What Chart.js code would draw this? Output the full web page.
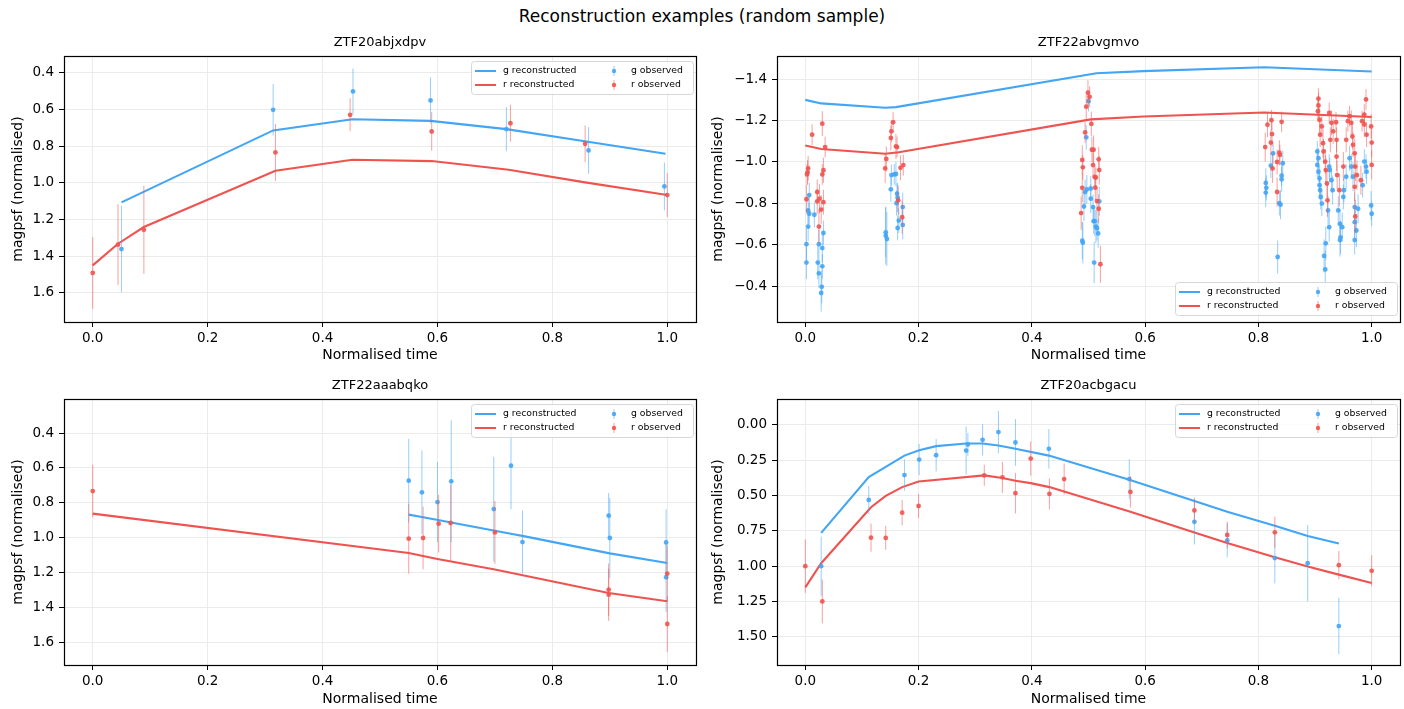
<!DOCTYPE html>
<html>
<head>
<meta charset="utf-8">
<script src="https://cdn.jsdelivr.net/npm/chart.js@4.4.1/dist/chart.umd.min.js"></script>
<style>
  body { margin: 0; background: #fff; width: 1404px; height: 709px; overflow: hidden; position: relative; font-family: "DejaVu Sans", sans-serif; }
  #title { position: absolute; top: 6px; left: 0; width: 1404px; text-align: center; font-size: 17px; color: #000; }
  canvas { position: absolute; }
</style>
</head>
<body>
<div id="title">Reconstruction examples (random sample)</div>
<canvas id="c1" width="700" height="335" style="left:0px;top:35px"></canvas>
<canvas id="c2" width="704" height="335" style="left:700px;top:35px"></canvas>
<canvas id="c3" width="700" height="337" style="left:0px;top:377px"></canvas>
<canvas id="c4" width="704" height="337" style="left:700px;top:377px"></canvas>
<script>
// ---------- data ----------
const xTicks = [0, 0.2, 0.4, 0.6, 0.8, 1.0];

// ZTF20abjxdpv
const p1Name = 'ZTF20abjxdpv';
const p1YTicks = [0.4, 0.6, 0.8, 1.0, 1.2, 1.4, 1.6];
const p1gRecX = [0.05, 0.314, 0.452, 0.588, 0.72, 0.859, 0.997];
const p1gRecY = [1.107, 0.715, 0.654, 0.663, 0.708, 0.775, 0.842];
const p1rRecX = [0.0, 0.044, 0.089, 0.318, 0.452, 0.59, 0.724, 0.857, 1.0];
const p1rRecY = [1.45, 1.332, 1.241, 0.935, 0.875, 0.882, 0.929, 0.998, 1.067];
const p1gObsX = [0.05, 0.314, 0.453, 0.588, 0.72, 0.863, 0.995];
const p1gObsY = [1.361, 0.603, 0.503, 0.552, 0.708, 0.824, 1.02];
const p1gObsE = [0.235, 0.14, 0.125, 0.125, 0.12, 0.127, 0.13];
const p1rObsX = [0.0, 0.044, 0.089, 0.318, 0.448, 0.59, 0.727, 0.857, 1.0];
const p1rObsY = [1.491, 1.337, 1.256, 0.835, 0.63, 0.721, 0.676, 0.788, 1.067];
const p1rObsE = [0.195, 0.22, 0.24, 0.155, 0.09, 0.105, 0.1, 0.1, 0.12];

// ZTF22abvgmvo
const p2Name = 'ZTF22abvgmvo';
const p2YTicks = [-1.4, -1.2, -1.0, -0.8, -0.6, -0.4];
const p2gRecX = [0.0, 0.028, 0.141, 0.16, 0.514, 0.597, 0.81, 1.0];
const p2gRecY = [-1.3, -1.283, -1.262, -1.265, -1.429, -1.439, -1.458, -1.437];
const p2rRecX = [0.0, 0.028, 0.141, 0.165, 0.504, 0.597, 0.81, 1.0];
const p2rRecY = [-1.08, -1.063, -1.04, -1.047, -1.206, -1.22, -1.239, -1.217];
const p2gObsX = [0.007, 0.005, 0.007, 0.016, 0.005, 0.002, 0.002, 0.024, 0.032, 0.03, 0.022, 0.03, 0.024, 0.029, 0.028,
  0.152, 0.157, 0.16, 0.151, 0.162, 0.163, 0.161, 0.172, 0.165, 0.172, 0.163, 0.142, 0.142, 0.144,
  0.5, 0.496, 0.494, 0.497, 0.504, 0.504, 0.492, 0.508, 0.519, 0.509, 0.511, 0.513, 0.515, 0.517, 0.489, 0.49, 0.51,
  0.826, 0.822, 0.843, 0.841, 0.841, 0.813, 0.814, 0.813, 0.837, 0.839, 0.834,
  0.904, 0.906, 0.904, 0.906, 0.908, 0.908, 0.909, 0.91, 0.912, 0.923, 0.925, 0.916, 0.918, 0.926, 0.929, 0.931, 0.925,
  0.941, 0.944, 0.945, 0.948, 0.95, 0.951, 0.955, 0.961, 0.964, 0.967, 0.97, 0.97, 0.973, 0.976, 0.987, 0.99, 0.991,
  0.984, 0.999, 1.0, 0.944, 0.97, 0.919];
const p2gObsY = [-0.84, -0.766, -0.75, -0.745, -0.688, -0.603, -0.514, -0.603, -0.657, -0.584, -0.514, -0.496, -0.462, -0.397, -0.367,
  -0.937, -0.94, -0.942, -0.868, -0.847, -0.828, -0.801, -0.782, -0.717, -0.696, -0.681, -0.66, -0.644, -0.628,
  -1.294, -1.119, -0.855, -0.867, -0.872, -0.823, -0.785, -0.782, -0.81, -0.714, -0.714, -0.688, -0.68, -0.655, -0.62, -0.61, -0.514,
  -1.042, -0.982, -0.994, -0.934, -0.916, -0.899, -0.875, -0.852, -0.801, -0.794, -0.541,
  -1.051, -1.018, -0.986, -0.953, -0.921, -0.888, -0.864, -0.831, -0.799, -0.766, -0.685, -0.546, -0.481, -0.961, -0.912, -0.864, -0.978,
  -0.766, -0.701, -0.636, -0.685, -0.831, -0.864, -0.929, -1.018, -0.978, -0.929, -0.782, -0.709, -0.669, -0.774, -1.002, -0.978, -0.953,
  -0.888, -0.79, -0.75, -0.623, -0.623, -0.607];
const p2gObsE = [0.06, 0.07, 0.05, 0.06, 0.07, 0.08, 0.08, 0.07, 0.06, 0.07, 0.08, 0.06, 0.07, 0.08, 0.09,
  0.05, 0.05, 0.06, 0.06, 0.05, 0.07, 0.06, 0.07, 0.06, 0.07, 0.06, 0.12, 0.14, 0.13,
  0.05, 0.06, 0.06, 0.07, 0.06, 0.07, 0.07, 0.06, 0.07, 0.06, 0.07, 0.08, 0.06, 0.07, 0.09, 0.1, 0.1,
  0.05, 0.06, 0.06, 0.05, 0.06, 0.07, 0.06, 0.07, 0.06, 0.07, 0.08,
  0.05, 0.05, 0.06, 0.05, 0.06, 0.06, 0.05, 0.06, 0.06, 0.07, 0.07, 0.08, 0.09, 0.06, 0.06, 0.07, 0.06,
  0.07, 0.07, 0.08, 0.07, 0.06, 0.06, 0.06, 0.06, 0.06, 0.07, 0.07, 0.08, 0.08, 0.07, 0.06, 0.06, 0.06,
  0.06, 0.07, 0.06, 0.08, 0.07, 0.08];
const p2rObsX = [0.012, 0.03, 0.035, 0.005, 0.003, 0.004, 0.002, 0.032, 0.03, 0.021, 0.025, 0.021, 0.028, 0.032, 0.024,
  0.152, 0.151, 0.155, 0.16, 0.162, 0.143, 0.141, 0.168, 0.173, 0.164, 0.171,
  0.499, 0.502, 0.496, 0.505, 0.494, 0.506, 0.509, 0.518, 0.489, 0.49, 0.508, 0.519, 0.511, 0.513, 0.489, 0.512, 0.515, 0.487, 0.518, 0.521,
  0.823, 0.816, 0.841, 0.824, 0.822, 0.812, 0.837, 0.838, 0.833, 0.825, 0.833,
  0.906, 0.906, 0.905, 0.908, 0.912, 0.909, 0.914, 0.915, 0.918, 0.919, 0.921, 0.922, 0.925, 0.929, 0.932, 0.927,
  0.937, 0.938, 0.938, 0.939, 0.943, 0.95, 0.955, 0.958, 0.961, 0.964, 0.966, 0.967, 0.97, 0.971, 0.974, 0.97,
  0.971, 0.983, 0.987, 0.99, 0.987, 0.991, 0.999, 1.0, 1.0, 0.981];
const p2rObsY = [-1.132, -1.185, -1.072, -0.969, -0.94, -0.95, -0.82, -0.96, -0.94, -0.855, -0.823, -0.81, -0.77, -0.806, -0.688,
  -1.148, -1.116, -1.192, -1.075, -1.072, -1.015, -0.969, -0.972, -0.985, -0.815, -0.733,
  -1.335, -1.315, -1.267, -1.184, -1.143, -1.059, -1.059, -1.013, -1.01, -0.974, -0.985, -0.961, -0.928, -0.925, -0.875, -0.876, -0.811, -0.753, -0.774, -0.506,
  -1.202, -1.18, -1.194, -1.135, -1.094, -1.072, -1.045, -1.034, -1.0, -0.969, -0.855,
  -1.306, -1.273, -1.245, -1.204, -1.172, -1.132, -1.091, -1.051, -1.002, -0.961, -0.896, -0.815, -1.237, -1.189, -1.148, -1.107,
  -1.192, -1.107, -1.026, -0.937, -0.864, -0.978, -1.107, -1.197, -1.221, -1.189, -1.123, -1.083, -1.042, -0.978, -0.937, -0.88,
  -0.737, -1.197, -1.229, -1.302, -1.181, -1.132, -1.172, -1.094, -0.986, -0.912];
const p2rObsE = [0.05, 0.06, 0.05, 0.06, 0.05, 0.06, 0.07, 0.06, 0.05, 0.06, 0.07, 0.06, 0.07, 0.06, 0.08,
  0.05, 0.06, 0.05, 0.06, 0.05, 0.06, 0.07, 0.06, 0.05, 0.07, 0.08,
  0.06, 0.05, 0.06, 0.06, 0.05, 0.06, 0.07, 0.06, 0.07, 0.06, 0.06, 0.07, 0.06, 0.05, 0.07, 0.06, 0.07, 0.08, 0.07, 0.09,
  0.05, 0.06, 0.05, 0.06, 0.06, 0.07, 0.06, 0.05, 0.06, 0.07, 0.07,
  0.05, 0.06, 0.05, 0.06, 0.05, 0.06, 0.07, 0.06, 0.06, 0.07, 0.07, 0.08, 0.05, 0.06, 0.06, 0.06,
  0.05, 0.06, 0.07, 0.07, 0.08, 0.07, 0.06, 0.05, 0.05, 0.06, 0.06, 0.06, 0.07, 0.07, 0.07, 0.07,
  0.08, 0.05, 0.05, 0.05, 0.06, 0.06, 0.06, 0.07, 0.07, 0.07];

// ZTF22aaabqko
const p3Name = 'ZTF22aaabqko';
const p3YTicks = [0.4, 0.6, 0.8, 1.0, 1.2, 1.4, 1.6];
const p3gRecX = [0.55, 0.575, 0.601, 0.626, 0.70, 0.73, 0.75, 0.9, 1.0];
const p3gRecY = [0.868, 0.883, 0.899, 0.915, 0.96, 0.979, 0.991, 1.09, 1.145];
const p3rRecX = [0.0, 0.55, 0.6, 0.70, 0.898, 1.0];
const p3rRecY = [0.862, 1.088, 1.122, 1.183, 1.317, 1.365];
const p3gObsX = [0.55, 0.573, 0.6, 0.624, 0.698, 0.728, 0.748, 0.898, 0.9, 0.998, 0.998];
const p3gObsY = [0.673, 0.74, 0.796, 0.677, 0.836, 0.587, 1.025, 0.874, 1.002, 1.027, 1.227];
const p3gObsE = [0.24, 0.24, 0.23, 0.35, 0.3, 0.25, 0.18, 0.13, 0.23, 0.19, 0.2];
const p3rObsX = [0.0, 0.55, 0.575, 0.602, 0.623, 0.70, 0.898, 0.898, 1.0, 1.0];
const p3rObsY = [0.733, 1.006, 1.002, 0.92, 0.916, 0.97, 1.298, 1.327, 1.206, 1.495];
const p3rObsE = [0.15, 0.2, 0.18, 0.165, 0.22, 0.18, 0.15, 0.15, 0.16, 0.16];

// ZTF20acbgacu
const p4Name = 'ZTF20acbgacu';
const p4YTicks = [0.0, 0.25, 0.5, 0.75, 1.0, 1.25, 1.5];
const p4gRecX = [0.028, 0.112, 0.175, 0.201, 0.231, 0.284, 0.313, 0.341, 0.371, 0.43, 0.572, 0.687, 0.745, 0.829, 0.887, 0.942];
const p4gRecY = [0.764, 0.369, 0.217, 0.179, 0.15, 0.131, 0.131, 0.145, 0.169, 0.217, 0.388, 0.538, 0.614, 0.714, 0.786, 0.84];
const p4rRecX = [0.0, 0.028, 0.116, 0.142, 0.171, 0.2, 0.316, 0.348, 0.371, 0.398, 0.431, 0.457, 0.574, 0.687, 0.745, 0.829, 0.887, 0.942, 1.0];
const p4rRecY = [1.15, 0.979, 0.583, 0.502, 0.44, 0.4, 0.357, 0.376, 0.395, 0.412, 0.44, 0.471, 0.614, 0.762, 0.836, 0.936, 1.002, 1.06, 1.119];
const p4gObsX = [0.028, 0.112, 0.175, 0.201, 0.231, 0.284, 0.287, 0.313, 0.341, 0.371, 0.43, 0.572, 0.687, 0.745, 0.829, 0.887, 0.942];
const p4gObsY = [1.0, 0.531, 0.355, 0.245, 0.214, 0.181, 0.138, 0.105, 0.05, 0.124, 0.169, 0.383, 0.686, 0.817, 0.943, 0.979, 1.424];
const p4gObsE = [0.21, 0.1, 0.11, 0.11, 0.115, 0.17, 0.08, 0.11, 0.15, 0.165, 0.14, 0.14, 0.16, 0.12, 0.18, 0.27, 0.2];
const p4rObsX = [0.0, 0.03, 0.116, 0.142, 0.171, 0.2, 0.316, 0.348, 0.371, 0.398, 0.431, 0.457, 0.574, 0.687, 0.745, 0.829, 0.942, 1.0];
const p4rObsY = [1.0, 1.25, 0.798, 0.8, 0.621, 0.574, 0.357, 0.371, 0.483, 0.238, 0.488, 0.383, 0.474, 0.605, 0.779, 0.76, 0.993, 1.033];
const p4rObsE = [0.19, 0.155, 0.1, 0.085, 0.09, 0.085, 0.075, 0.11, 0.143, 0.12, 0.11, 0.11, 0.11, 0.09, 0.095, 0.11, 0.1, 0.11];

// ---------- styling ----------
const BLUE = '#42a5f5';
const RED = '#ef5350';
const FONT = 'DejaVu Sans';

const pts = (xs, ys) => xs.map((x, i) => ({ x: x, y: ys[i] }));

// vertical error bars, drawn under each observed dataset
const errorBars = {
  id: 'errorBars',
  beforeDatasetDraw(chart, args) {
    const ds = chart.data.datasets[args.index];
    if (!ds.err) return;
    const { ctx, chartArea: a, scales: { x, y } } = chart;
    ctx.save();
    ctx.beginPath();
    ctx.rect(a.left, a.top, a.right - a.left, a.bottom - a.top);
    ctx.clip();
    ctx.strokeStyle = ds.errColor;
    ctx.lineWidth = 1;
    ds.data.forEach((p, i) => {
      const px = x.getPixelForValue(p.x);
      ctx.beginPath();
      ctx.moveTo(px, y.getPixelForValue(p.y - ds.err[i]));
      ctx.lineTo(px, y.getPixelForValue(p.y + ds.err[i]));
      ctx.stroke();
    });
    ctx.restore();
  }
};

// black frame round the axes + subplot title centred over the axes
const frame = {
  id: 'frame',
  afterDraw(chart, args, opts) {
    const { ctx, chartArea: a } = chart;
    ctx.save();
    ctx.strokeStyle = '#000';
    ctx.lineWidth = 1.2;
    ctx.strokeRect(Math.round(a.left) + 0.5, Math.round(a.top) + 0.5, Math.round(a.right - a.left), Math.round(a.bottom - a.top));
    ctx.fillStyle = '#000';
    ctx.font = '13px "' + FONT + '"';
    ctx.textAlign = 'center';
    ctx.textBaseline = 'middle';
    ctx.fillText(opts.title, (a.left + a.right) / 2, a.top - 13);
    ctx.restore();
  }
};

// matplotlib-like legend inside the axes, two columns
const boxLegend = {
  id: 'boxLegend',
  afterDraw(chart, args, opts) {
    const { ctx, chartArea: a } = chart;
    const ds = chart.data.datasets;
    const w = 222, h = 33;
    const left = a.right - 3 - w;
    const top = opts.bottom ? a.bottom - 7 - h : a.top + 5;
    ctx.save();
    ctx.fillStyle = 'rgba(255,255,255,0.85)';
    ctx.strokeStyle = '#d6d6d6';
    ctx.lineWidth = 1;
    ctx.beginPath();
    ctx.roundRect(left + 0.5, top + 0.5, w, h, 3);
    ctx.fill();
    ctx.stroke();
    ctx.font = '9.3px "' + FONT + '"';
    ctx.textBaseline = 'middle';
    ctx.fillStyle = '#000';
    const rows = [top + 10, top + 24];
    // column 1: reconstructed lines
    [0, 1].forEach((k, r) => {
      ctx.strokeStyle = ds[k].borderColor;
      ctx.lineWidth = 2;
      ctx.beginPath();
      ctx.moveTo(left + 4, rows[r]);
      ctx.lineTo(left + 25, rows[r]);
      ctx.stroke();
      ctx.fillText(ds[k].label, left + 32, rows[r]);
    });
    // column 2: observed markers with error bar
    [2, 3].forEach((k, r) => {
      ctx.strokeStyle = ds[k].errColor;
      ctx.lineWidth = 1;
      ctx.beginPath();
      ctx.moveTo(left + 143, rows[r] - 5);
      ctx.lineTo(left + 143, rows[r] + 5);
      ctx.stroke();
      ctx.fillStyle = ds[k].backgroundColor;
      ctx.beginPath();
      ctx.arc(left + 143, rows[r], 2.2, 0, Math.PI * 2);
      ctx.fill();
      ctx.fillStyle = '#000';
      ctx.fillText(ds[k].label, left + 160, rows[r]);
    });
    ctx.restore();
  }
};

function fmt(v, dec) {
  return v.toFixed(dec).replace('-', '\u2212');
}

function makePanel(id, name, geo, yTicks, yMin, yMax, dec, legendBottom, s) {
  new Chart(document.getElementById(id), {
    data: {
      datasets: [
        { type: 'line', label: 'g reconstructed', data: pts(s.gRecX, s.gRecY), borderColor: BLUE, backgroundColor: BLUE,
          borderWidth: 2.1, pointRadius: 0, tension: 0, order: 2 },
        { type: 'line', label: 'r reconstructed', data: pts(s.rRecX, s.rRecY), borderColor: RED, backgroundColor: RED,
          borderWidth: 2.1, pointRadius: 0, tension: 0, order: 2 },
        { type: 'scatter', label: 'g observed', data: pts(s.gObsX, s.gObsY), err: s.gObsE, errColor: 'rgba(66,165,245,0.55)',
          backgroundColor: 'rgba(66,165,245,0.9)', borderWidth: 0, pointRadius: 2.4, order: 1 },
        { type: 'scatter', label: 'r observed', data: pts(s.rObsX, s.rObsY), err: s.rObsE, errColor: 'rgba(239,83,80,0.55)',
          backgroundColor: 'rgba(239,83,80,0.9)', borderWidth: 0, pointRadius: 2.4, order: 0 }
      ]
    },
    options: {
      responsive: false,
      animation: false,
      devicePixelRatio: 1,
      layout: { padding: { left: 0, right: geo.right, top: geo.top, bottom: 0 } },
      plugins: {
        legend: { display: false },
        tooltip: { enabled: false },
        title: { display: false },
        frame: { title: name },
        boxLegend: { bottom: legendBottom }
      },
      scales: {
        x: {
          type: 'linear', min: -0.05, max: 1.05,
          afterBuildTicks: sc => { sc.ticks = xTicks.map(v => ({ value: v })); },
          afterFit: sc => { sc.height = geo.h - geo.bottom; },
          ticks: { color: '#000', font: { family: FONT, size: 13.5 }, padding: 3, maxRotation: 0,
            callback: v => fmt(v, 1) },
          grid: { color: '#ebebeb', tickColor: '#000', tickLength: 5, lineWidth: 1 },
          border: { display: false },
          title: { display: true, text: 'Normalised time', color: '#000', font: { family: FONT, size: 14 },
            padding: { top: 0, bottom: geo.xTitlePad } }
        },
        y: {
          type: 'linear', reverse: true, min: yMin, max: yMax,
          afterBuildTicks: sc => { sc.ticks = yTicks.map(v => ({ value: v })); },
          afterFit: sc => { sc.width = geo.left; },
          ticks: { color: '#000', font: { family: FONT, size: 13.5 }, padding: 5,
            callback: v => fmt(v, dec) },
          grid: { color: '#ebebeb', tickColor: '#000', tickLength: 5, lineWidth: 1 },
          border: { display: false },
          title: { display: true, text: 'magpsf (normalised)', color: '#000', font: { family: FONT, size: 14 },
            padding: { top: 10, bottom: 0 } }
        }
      }
    },
    plugins: [errorBars, frame, boxLegend]
  });
}

const geoTL = { h: 335, left: 64, right: 3, top: 21, bottom: 287, xTitlePad: 6.6 };
const geoTR = { h: 335, left: 77, right: 2, top: 21, bottom: 287, xTitlePad: 6.6 };
const geoBL = { h: 337, left: 64, right: 3, top: 22, bottom: 288, xTitlePad: 6.6 };
const geoBR = { h: 337, left: 77, right: 2, top: 22, bottom: 288, xTitlePad: 6.6 };

makePanel('c1', p1Name, geoTL, p1YTicks, 0.31, 1.758, 1, false,
  { gRecX: p1gRecX, gRecY: p1gRecY, rRecX: p1rRecX, rRecY: p1rRecY, gObsX: p1gObsX, gObsY: p1gObsY, gObsE: p1gObsE, rObsX: p1rObsX, rObsY: p1rObsY, rObsE: p1rObsE });
makePanel('c2', p2Name, geoTR, p2YTicks, -1.512, -0.227, 1, true,
  { gRecX: p2gRecX, gRecY: p2gRecY, rRecX: p2rRecX, rRecY: p2rRecY, gObsX: p2gObsX, gObsY: p2gObsY, gObsE: p2gObsE, rObsX: p2rObsX, rObsY: p2rObsY, rObsE: p2rObsE });
makePanel('c3', p3Name, geoBL, p3YTicks, 0.205, 1.73, 1, false,
  { gRecX: p3gRecX, gRecY: p3gRecY, rRecX: p3rRecX, rRecY: p3rRecY, gObsX: p3gObsX, gObsY: p3gObsY, gObsE: p3gObsE, rObsX: p3rObsX, rObsY: p3rObsY, rObsE: p3rObsE });
makePanel('c4', p4Name, geoBR, p4YTicks, -0.184, 1.70, 2, false,
  { gRecX: p4gRecX, gRecY: p4gRecY, rRecX: p4rRecX, rRecY: p4rRecY, gObsX: p4gObsX, gObsY: p4gObsY, gObsE: p4gObsE, rObsX: p4rObsX, rObsY: p4rObsY, rObsE: p4rObsE });
</script>
</body>
</html>
